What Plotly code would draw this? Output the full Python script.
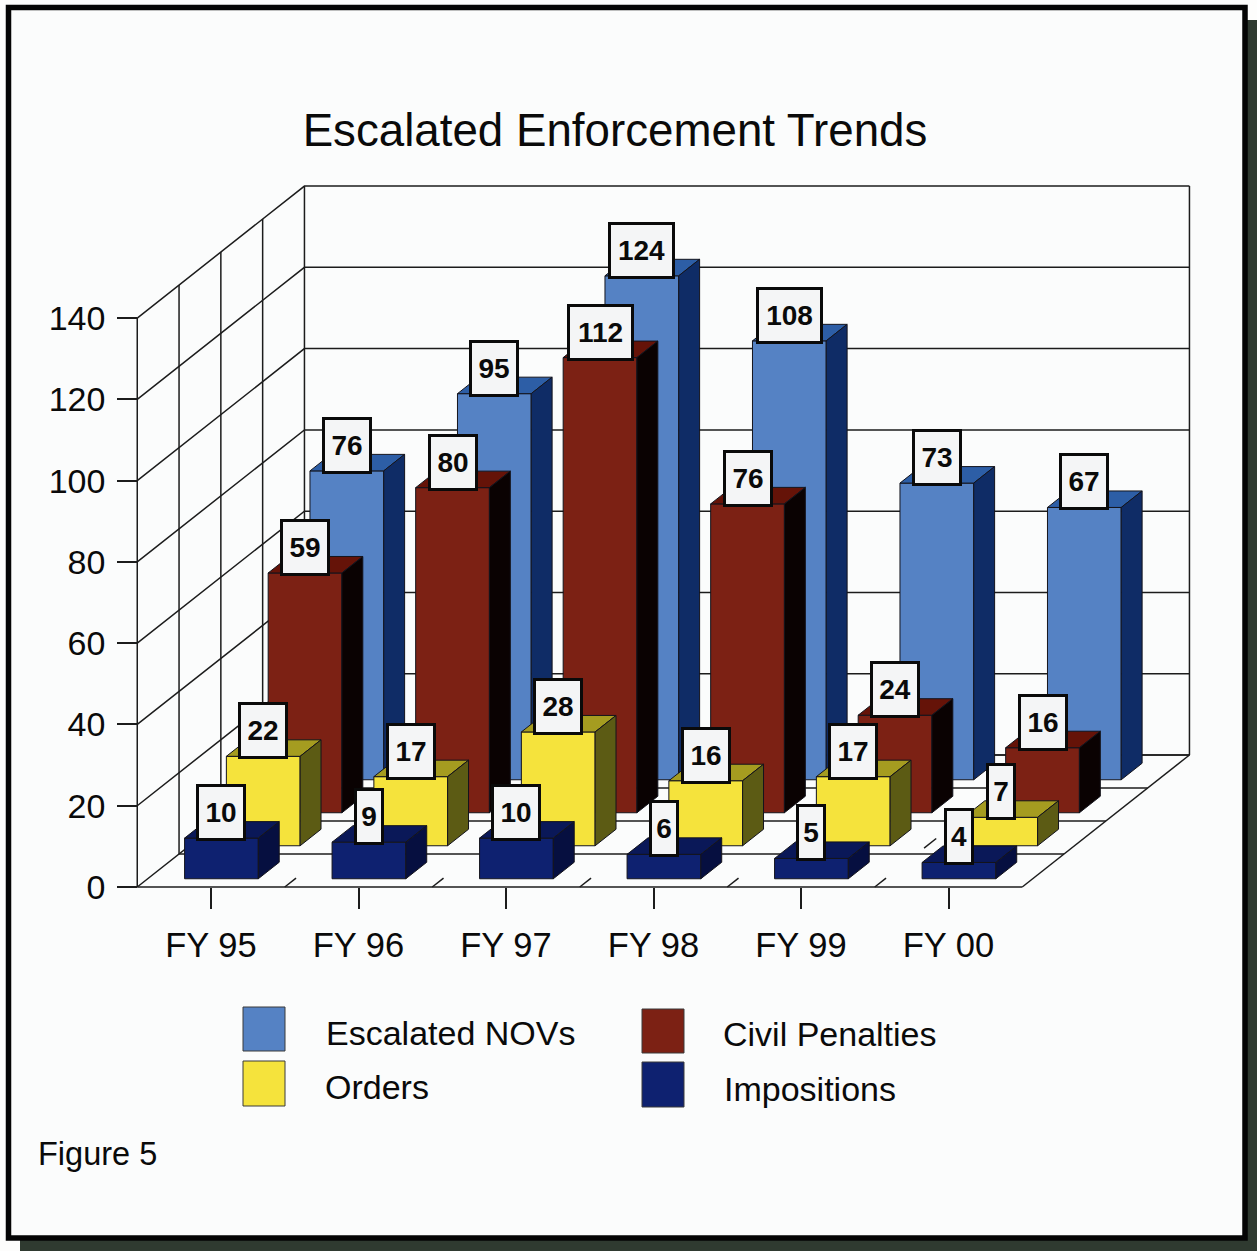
import plotly.graph_objects as go

# ---------- data ----------
categories = ["FY 95", "FY 96", "FY 97", "FY 98", "FY 99", "FY 00"]
escalated_novs = [76, 95, 124, 108, 73, 67]
civil_penalties = [59, 80, 112, 76, 24, 16]
orders = [22, 17, 28, 16, 17, 7]
impositions = [10, 9, 10, 6, 5, 4]
y_ticks = [0, 20, 40, 60, 80, 100, 120, 140]

# ---------- page + oblique projection settings ----------
W, H = 1257, 1251
PX_PER_CAT = 147.5
PX_PER_VAL = 4.064
ORIGIN_X, ORIGIN_Y = 211.0, 887.0      # pixel of category 0, value 0
DX = 41.8 / PX_PER_CAT                  # depth step in category units
DY = 33.0 / PX_PER_VAL                  # depth step in value units
BAR_W = 0.5
BAR_D = 0.5

PAPER = "#fbfcfc"
INK = "#1c1c1c"
FONT = "Liberation Sans"

# series from back to front: name, values, front, top, side
series = [
    ("Escalated NOVs", escalated_novs, "#5582c4", "#2d5ea6", "#0f2c66"),
    ("Civil Penalties", civil_penalties, "#7c2114", "#651308", "#0a0202"),
    ("Orders", orders, "#f5e33c", "#a59c20", "#5c5b14"),
    ("Impositions", impositions, "#0e2170", "#0a1858", "#060f40"),
]
N_DEPTH = len(series)


def proj(cat, depth, val):
    return cat + depth * DX, val + depth * DY


def px(x):
    return x / W


def py(y):
    return 1 - y / H


fig = go.Figure()


# ---------- walls and floor ----------
def polyline(points, xs, ys):
    for c, d, v in points:
        x, y = proj(c, d, v)
        xs.append(x)
        ys.append(y)
    xs.append(None)
    ys.append(None)


gx, gy = [], []
left, right = -0.5, len(categories) - 0.5
top = y_ticks[-1]
for v in y_ticks:
    polyline([(left, 0, v), (left, N_DEPTH, v), (right, N_DEPTH, v)], gx, gy)
for d in range(N_DEPTH + 1):
    polyline([(left, d, 0), (left, d, top)], gx, gy)
polyline([(right, N_DEPTH, 0), (right, N_DEPTH, top)], gx, gy)
for d in range(N_DEPTH + 1):
    polyline([(left, d, 0), (right, d, 0)], gx, gy)
polyline([(right, 0, 0), (right, N_DEPTH, 0)], gx, gy)
for k in range(1, len(categories)):
    polyline([(left + k, 0, 0), (left + k, 0.27, 0)], gx, gy)
polyline([(left + 5, 1.18, 0), (left + 5, 1.47, 0)], gx, gy)
fig.add_trace(go.Scatter(x=gx, y=gy, mode="lines", line=dict(color=INK, width=1.5),
                         hoverinfo="skip", showlegend=False))

# ---------- bars ----------
annotations = []
for s_idx, (name, values, c_front, c_top, c_side) in enumerate(series):
    depth_cell = N_DEPTH - 1 - s_idx
    d0 = depth_cell + (1 - BAR_D) / 2
    d1 = d0 + BAR_D
    faces = {"front": ([], []), "top": ([], []), "side": ([], [])}
    for i, v in enumerate(values):
        c0, c1 = i - BAR_W / 2, i + BAR_W / 2
        polyline([(c0, d0, 0), (c1, d0, 0), (c1, d0, v), (c0, d0, v), (c0, d0, 0)], *faces["front"])
        polyline([(c0, d0, v), (c1, d0, v), (c1, d1, v), (c0, d1, v), (c0, d0, v)], *faces["top"])
        polyline([(c1, d0, 0), (c1, d1, 0), (c1, d1, v), (c1, d0, v), (c1, d0, 0)], *faces["side"])
        lx, ly = proj(i, d0, v)
        annotations.append(dict(
            x=lx, y=ly, xref="x", yref="y", text=str(v), showarrow=False,
            xanchor="center", yanchor="bottom", yshift=-3,
            width={1: 24, 2: 44, 3: 61}[len(str(v))], height=51,
            bgcolor="#f4f5f6", bordercolor="#0a0a0a", borderwidth=3, borderpad=0,
            font=dict(family=FONT, size=28, color="#0a0a0a", weight="bold"),
        ))
    for face, col in (("front", c_front), ("top", c_top), ("side", c_side)):
        xs, ys = faces[face]
        fig.add_trace(go.Scatter(x=xs, y=ys, mode="lines", fill="toself", fillcolor=col,
                                 line=dict(color="#14141c", width=1), name=name,
                                 hoverinfo="skip", showlegend=False))


# ---------- legend, caption ----------
def label(text, x, y, size):
    annotations.append(dict(x=px(x), y=py(y), xref="paper", yref="paper", text=text,
                            showarrow=False, xanchor="left", yanchor="middle",
                            font=dict(family=FONT, size=size, color="#0a0a0a")))


legend_text = {
    "Escalated NOVs": (324, 1033, (243, 1007, 285, 1051)),
    "Orders": (323, 1087, (243, 1061, 285, 1106)),
    "Civil Penalties": (721, 1034, (642, 1009, 684, 1053)),
    "Impositions": (722, 1089, (642, 1062, 684, 1107)),
}
shapes = [
    dict(type="rect", xref="paper", yref="paper", x0=px(20), x1=1, y0=0, y1=py(20),
         fillcolor="#2f3a30", line=dict(width=0), layer="below"),
    dict(type="rect", xref="paper", yref="paper", x0=px(8.5), x1=px(1245), y0=py(1238), y1=py(7.5),
         fillcolor=PAPER, line=dict(color="#050505", width=5.5), layer="below"),
]
for name, values, c_front, c_top, c_side in series:
    tx, ty, (a, b, c, d) = legend_text[name]
    label(name, tx, ty, 34)
    shapes.append(dict(type="rect", xref="paper", yref="paper", x0=px(a), x1=px(c), y0=py(d), y1=py(b),
                       fillcolor=c_front, line=dict(color="#3a3a3a", width=1), layer="above"))
label("Figure 5", 36, 1154, 32.5)

fig.update_layout(
    width=W, height=H, autosize=False,
    margin=dict(l=0, r=0, t=0, b=0, pad=0),
    paper_bgcolor="#fdfdfc", plot_bgcolor="rgba(0,0,0,0)",
    showlegend=False,
    title=dict(text="Escalated Enforcement Trends", x=615 / W, y=py(130), xref="paper", yref="paper",
               xanchor="center", yanchor="middle", font=dict(family=FONT, size=45.7, color="#0a0a0a")),
    xaxis=dict(range=[-ORIGIN_X / PX_PER_CAT, (W - ORIGIN_X) / PX_PER_CAT],
               tickvals=list(range(len(categories))), ticktext=categories,
               anchor="free", position=py(ORIGIN_Y), showgrid=False, zeroline=False, showline=False,
               ticks="outside", ticklen=21, tickcolor=INK, tickwidth=1.5, ticklabelstandoff=7,
               tickfont=dict(family=FONT, size=34.5, color="#0a0a0a")),
    yaxis=dict(range=[(ORIGIN_Y - H) / PX_PER_VAL, ORIGIN_Y / PX_PER_VAL],
               tickvals=y_ticks, anchor="free", position=px(ORIGIN_X - 0.5 * PX_PER_CAT),
               showgrid=False, zeroline=False, showline=False,
               ticks="outside", ticklen=20, tickcolor=INK, tickwidth=1.5, ticklabelstandoff=5,
               tickfont=dict(family=FONT, size=34, color="#0a0a0a")),
    annotations=annotations,
    shapes=shapes,
)

fig.write_html("out.html", config={"displayModeBar": False},
               post_script="document.body.style.margin='0';document.body.style.overflow='hidden';")
